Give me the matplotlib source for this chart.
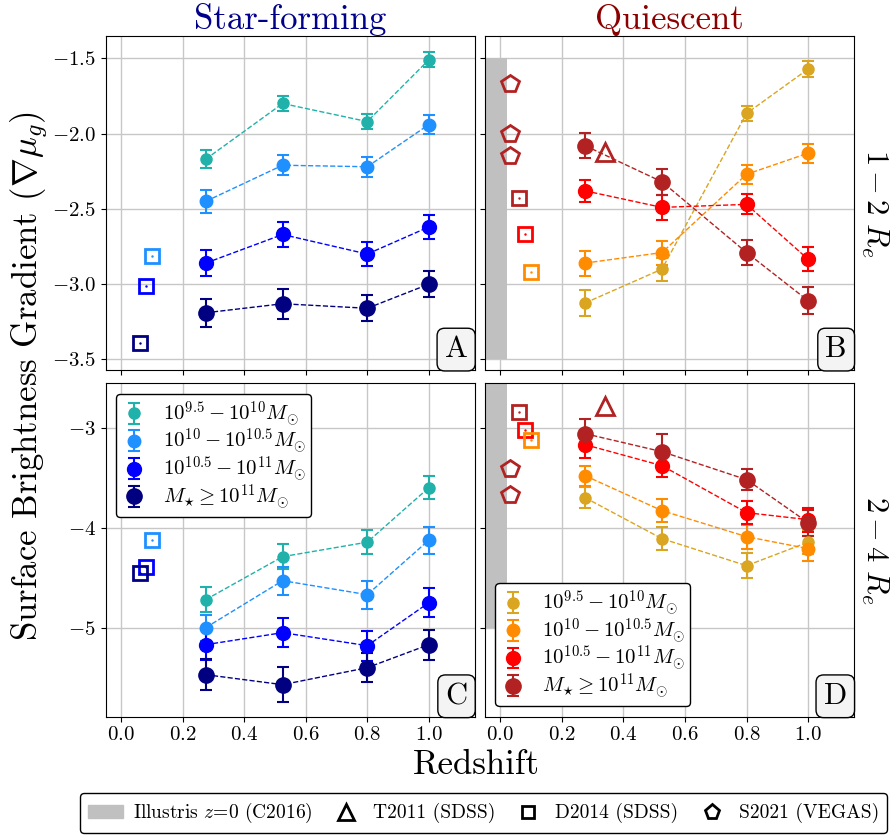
import matplotlib
matplotlib.use("Agg")
import matplotlib.pyplot as plt
from matplotlib.patches import Patch
from matplotlib.lines import Line2D

plt.rcParams["font.family"] = "serif"
plt.rcParams["font.serif"] = ["cmr10", "DejaVu Serif"]
plt.rcParams["mathtext.fontset"] = "cm"
plt.rcParams["axes.formatter.use_mathtext"] = True

# redshift bins
z = [0.275, 0.525, 0.8, 1.0]

mass_labels = [r"$10^{9.5}-10^{10}M_{\odot}$",
               r"$10^{10}-10^{10.5}M_{\odot}$",
               r"$10^{10.5}-10^{11}M_{\odot}$",
               r"$M_{\star}\geq10^{11}M_{\odot}$"]
sf_colors = ["lightseagreen", "dodgerblue", "blue", "navy"]
q_colors = ["goldenrod", "darkorange", "red", "firebrick"]

# star-forming, 1-2 Re
sf_inner = [[-2.17, -1.80, -1.92, -1.51],
            [-2.45, -2.21, -2.22, -1.94],
            [-2.86, -2.67, -2.80, -2.62],
            [-3.19, -3.13, -3.16, -3.00]]
sf_inner_err = [[0.06, 0.05, 0.05, 0.05],
                [0.075, 0.068, 0.067, 0.064],
                [0.088, 0.08, 0.079, 0.082],
                [0.093, 0.098, 0.087, 0.085]]

# quiescent, 1-2 Re
q_inner = [[-3.125, -2.90, -1.866, -1.571],
           [-2.86, -2.79, -2.27, -2.13],
           [-2.38, -2.49, -2.47, -2.835],
           [-2.08, -2.32, -2.79, -3.11]]
q_inner_err = [[0.086, 0.076, 0.049, 0.05],
               [0.083, 0.08, 0.062, 0.064],
               [0.075, 0.083, 0.066, 0.08],
               [0.084, 0.086, 0.083, 0.09]]

# star-forming, 2-4 Re
sf_outer = [[-4.72, -4.29, -4.145, -3.60],
            [-5.00, -4.53, -4.67, -4.125],
            [-5.17, -5.05, -5.18, -4.75],
            [-5.47, -5.57, -5.40, -5.17]]
sf_outer_err = [[0.128, 0.122, 0.117, 0.113],
                [0.13, 0.14, 0.139, 0.134],
                [0.15, 0.147, 0.15, 0.147],
                [0.158, 0.177, 0.145, 0.149]]

# quiescent, 2-4 Re
q_outer = [[-3.70, -4.11, -4.38, -4.145],
           [-3.48, -3.83, -4.09, -4.21],
           [-3.17, -3.38, -3.85, -3.92],
           [-3.06, -3.24, -3.52, -3.95]]
q_outer_err = [[0.105, 0.113, 0.125, 0.12],
               [0.10, 0.115, 0.12, 0.125],
               [0.135, 0.113, 0.117, 0.12],
               [0.145, 0.175, 0.103, 0.13]]

# literature values at low z
d14_z = [0.10, 0.08, 0.06]
d14_sf_inner = [-2.81, -3.01, -3.39]
d14_sf_outer = [-4.12, -4.39, -4.45]
d14_sf_colors = ["dodgerblue", "blue", "navy"]
d14_q_z = [0.06, 0.08, 0.10]
d14_q_inner = [-2.43, -2.67, -2.92]
d14_q_outer = [-2.84, -3.02, -3.12]
d14_q_colors = ["firebrick", "red", "darkorange"]

s21_z = 0.03
s21_inner = [-1.67, -2.00, -2.15]
s21_outer = [-3.41, -3.67]

t11_z = 0.34
t11_inner = -2.12
t11_outer = -2.78

illustris_zmax = 0.02
illustris_inner = (-3.5, -1.5)
illustris_outer = (-5.0, -2.5)

marker_sizes = [8, 9, 10, 11]

fig = plt.figure(figsize=(8.94, 8.39), dpi=100)
ax_a = fig.add_axes([0.1182, 0.559, 0.4131, 0.3984])
ax_b = fig.add_axes([0.5425, 0.559, 0.4131, 0.3984], sharey=ax_a)
ax_c = fig.add_axes([0.1182, 0.1458, 0.4131, 0.3974], sharex=ax_a)
ax_d = fig.add_axes([0.5425, 0.1458, 0.4131, 0.3974], sharey=ax_c)


def draw_bins(ax, vals, errs, colors):
    for i in range(4):
        ax.plot(z, vals[i], ls="--", lw=1, color=colors[i], zorder=2)
        ax.errorbar(z, vals[i], yerr=errs[i], fmt="o", color=colors[i],
                    ms=marker_sizes[i], capsize=4, elinewidth=1.5,
                    capthick=1.5, label=mass_labels[i], zorder=3)


def draw_d14(ax, zs, vals, colors):
    for zz, v, c in zip(zs, vals, colors):
        ax.plot(zz, v, marker="s", ms=10, mfc="none", mec=c, mew=2, ls="none")
        ax.plot(zz, v, marker=".", ms=1.5, color=c, ls="none")


draw_bins(ax_a, sf_inner, sf_inner_err, sf_colors)
draw_d14(ax_a, d14_z, d14_sf_inner, d14_sf_colors)

draw_bins(ax_b, q_inner, q_inner_err, q_colors)
ax_b.fill_between([-0.1, illustris_zmax], illustris_inner[0], illustris_inner[1],
                  color="silver", lw=0, zorder=1)
draw_d14(ax_b, d14_q_z, d14_q_inner, d14_q_colors)
ax_b.plot([s21_z] * len(s21_inner), s21_inner, marker="p", ms=13, mfc="none",
          mec="firebrick", mew=2, ls="none")
ax_b.plot(t11_z, t11_inner, marker="^", ms=13, mfc="none", mec="firebrick",
          mew=2, ls="none")

draw_bins(ax_c, sf_outer, sf_outer_err, sf_colors)
draw_d14(ax_c, d14_z, d14_sf_outer, d14_sf_colors)

draw_bins(ax_d, q_outer, q_outer_err, q_colors)
ax_d.fill_between([-0.1, illustris_zmax], illustris_outer[0], illustris_outer[1],
                  color="silver", lw=0, zorder=1)
draw_d14(ax_d, d14_q_z, d14_q_outer, d14_q_colors)
ax_d.plot([s21_z] * len(s21_outer), s21_outer, marker="p", ms=13, mfc="none",
          mec="firebrick", mew=2, ls="none")
ax_d.plot(t11_z, t11_outer, marker="^", ms=13, mfc="none", mec="firebrick",
          mew=2, ls="none")

for ax, letter in zip([ax_a, ax_b, ax_c, ax_d], "ABCD"):
    ax.set_xlim(-0.05, 1.15)
    ax.set_xticks([0.0, 0.2, 0.4, 0.6, 0.8, 1.0])
    ax.grid(True, color="0.78", lw=1)
    ax.set_axisbelow(True)
    ax.tick_params(labelsize=15)
    ax.text(0.98, 0.02, letter, transform=ax.transAxes, ha="right", va="bottom",
            fontsize=22, zorder=5,
            bbox=dict(boxstyle="round,pad=0.25", fc="#f4f4f4", ec="black", lw=1))

ax_a.set_ylim(-3.57, -1.35)
ax_a.set_yticks([-3.5, -3.0, -2.5, -2.0, -1.5])
ax_c.set_ylim(-5.89, -2.556)
ax_c.set_yticks([-5, -4, -3])
ax_a.tick_params(labelbottom=False)
ax_b.tick_params(labelbottom=False, labelleft=False)
ax_d.tick_params(labelleft=False)

ax_a.set_title("Star-forming", color="darkblue", fontsize=25, pad=3)
ax_b.set_title("Quiescent", color="darkred", fontsize=25, pad=3)
ax_b.text(1.012, 0.5, r"$1-2\ R_e$", transform=ax_b.transAxes, rotation=-90,
          ha="left", va="center", fontsize=22)
ax_d.text(1.012, 0.5, r"$2-4\ R_e$", transform=ax_d.transAxes, rotation=-90,
          ha="left", va="center", fontsize=22)

fig.text(0.034, 0.552, r"Surface Brightness Gradient ($\nabla\mu_g$)",
         rotation=90, ha="center", va="center", fontsize=25)
fig.text(0.533, 0.088, "Redshift", ha="center", va="center", fontsize=25)

leg_kw = dict(fontsize=15, framealpha=1, edgecolor="black", borderaxespad=0.5,
              handletextpad=0.8, handlelength=1.2, labelspacing=-0.1,
              borderpad=0.25, handleheight=0.6)
leg_c = ax_c.legend(loc="upper left", **leg_kw)
leg_c.get_frame().set_linewidth(1)
leg_d = ax_d.legend(loc="lower left", **leg_kw)
leg_d.get_frame().set_linewidth(1)

ref_handles = [Patch(color="silver"),
               Line2D([], [], marker="^", ms=11, mfc="none", mec="black", mew=2, ls="none"),
               Line2D([], [], marker="s", ms=9, mfc="none", mec="black", mew=2, ls="none"),
               Line2D([], [], marker="p", ms=11, mfc="none", mec="black", mew=2, ls="none")]
ref_labels = [r"Illustris $z$=0 (C2016)", "T2011 (SDSS)", "D2014 (SDSS)", "S2021 (VEGAS)"]
leg_ref = fig.legend(ref_handles, ref_labels, loc="lower center", ncol=4,
                     bbox_to_anchor=(0.541, 0.0), fontsize=14, framealpha=1,
                     edgecolor="black", columnspacing=0.8, handletextpad=0.5,
                     handlelength=1.8, borderaxespad=0.3)
leg_ref.get_frame().set_linewidth(1)

fig.savefig("out.png", dpi=100)
